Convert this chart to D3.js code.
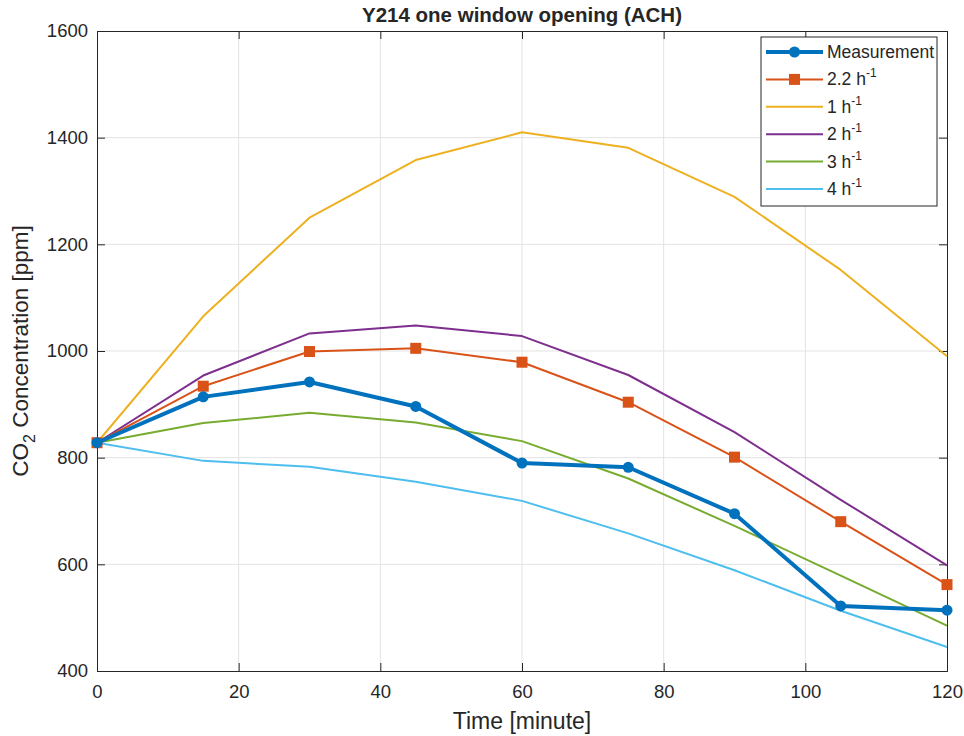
<!DOCTYPE html>
<html>
<head>
<meta charset="utf-8">
<script src="https://cdn.jsdelivr.net/npm/d3@7"></script>
<style>
  body { margin: 0; background: #fff; }
  text { font-family: "Liberation Sans", Arial, sans-serif; fill: #262626; }
</style>
</head>
<body>
<svg id="chart" width="964" height="736"></svg>
<script>
const times = [0, 15, 30, 45, 60, 75, 90, 105, 120];
const measurement = [828, 914, 942, 896, 790, 782, 695, 522, 514];
const ach22 = [828, 934, 999, 1005, 979, 904, 801, 680, 562];
const ach1 = [828, 1065, 1250, 1358, 1410, 1381, 1289, 1152, 990];
const ach2 = [828, 954, 1033, 1048, 1028, 955, 848, 721, 598];
const ach3 = [828, 865, 884, 866, 831, 761, 672, 579, 485];
const ach4 = [828, 794, 783, 755, 719, 658, 589, 513, 445];
const xTicks = [0, 20, 40, 60, 80, 100, 120];
const yTicks = [400, 600, 800, 1000, 1200, 1400, 1600];
const titleText = "Y214 one window opening (ACH)";
const xLabel = "Time [minute]";

const series = [
  {name: "Measurement", base: "Measurement", sup: "", values: measurement, color: "#0072BD", width: 4, marker: "circle"},
  {name: "2.2", base: "2.2 h", sup: "-1", values: ach22, color: "#D95319", width: 2, marker: "square"},
  {name: "1", base: "1 h", sup: "-1", values: ach1, color: "#EDB120", width: 2, marker: null},
  {name: "2", base: "2 h", sup: "-1", values: ach2, color: "#7E2F8E", width: 2, marker: null},
  {name: "3", base: "3 h", sup: "-1", values: ach3, color: "#77AC30", width: 2, marker: null},
  {name: "4", base: "4 h", sup: "-1", values: ach4, color: "#4DBEEE", width: 2, marker: null}
];

const svg = d3.select("#chart");
const L = 97, R = 947, T = 31, B = 671;
const x = d3.scaleLinear().domain([0, 120]).range([L, R]);
const y = d3.scaleLinear().domain([400, 1600]).range([B, T]);

// grid
const grid = svg.append("g");
grid.selectAll(".vg").data(xTicks.slice(1, -1)).enter().append("line")
  .attr("x1", d => x(d)).attr("x2", d => x(d)).attr("y1", T).attr("y2", B)
  .attr("stroke", "#e3e3e3").attr("stroke-width", 1);
grid.selectAll(".hg").data(yTicks.slice(1, -1)).enter().append("line")
  .attr("y1", d => y(d)).attr("y2", d => y(d)).attr("x1", L).attr("x2", R)
  .attr("stroke", "#e3e3e3").attr("stroke-width", 1);

// axes
const tickLen = 8;
const xAxis = d3.axisBottom(x).tickValues(xTicks).tickSize(-tickLen).tickPadding(14).tickFormat(d3.format("d"));
const yAxis = d3.axisLeft(y).tickValues(yTicks).tickSize(-tickLen).tickPadding(9).tickFormat(d3.format("d"));
const xTop = d3.axisTop(x).tickValues(xTicks).tickSize(-tickLen).tickFormat("");
const yRight = d3.axisRight(y).tickValues(yTicks).tickSize(-tickLen).tickFormat("");

function styleAxis(g) {
  g.select(".domain").attr("stroke", "#262626").attr("stroke-width", 1);
  g.selectAll(".tick line").attr("stroke", "#262626");
  g.selectAll(".tick text").attr("font-size", 18.5).attr("fill", "#262626")
    .style("font-family", "'Liberation Sans', Arial, sans-serif");
}
svg.append("g").attr("transform", `translate(0,${B})`).call(xAxis).call(styleAxis);
svg.append("g").attr("transform", `translate(${L},0)`).call(yAxis).call(styleAxis);
svg.append("g").attr("transform", `translate(0,${T})`).call(xTop).call(styleAxis);
svg.append("g").attr("transform", `translate(${R},0)`).call(yRight).call(styleAxis);

// lines
const line = d3.line().x((d, i) => x(times[i])).y(d => y(d));
const drawOrder = [2, 3, 4, 5, 1, 0];
const plot = svg.append("g");
drawOrder.forEach(k => {
  const s = series[k];
  plot.append("path").datum(s.values).attr("d", line)
    .attr("fill", "none").attr("stroke", s.color).attr("stroke-width", s.width)
    .attr("stroke-linejoin", "round");
  if (s.marker === "circle") {
    plot.selectAll(null).data(s.values).enter().append("circle")
      .attr("cx", (d, i) => x(times[i])).attr("cy", d => y(d)).attr("r", 5.5)
      .attr("fill", s.color);
  } else if (s.marker === "square") {
    plot.selectAll(null).data(s.values).enter().append("rect")
      .attr("x", (d, i) => x(times[i]) - 5.5).attr("y", d => y(d) - 5.5)
      .attr("width", 11).attr("height", 11).attr("fill", s.color);
  }
});

// title and labels
svg.append("text").attr("x", (L + R) / 2).attr("y", 22).attr("text-anchor", "middle")
  .attr("font-size", 20.5).attr("font-weight", "bold").attr("fill", "#111").text(titleText);
svg.append("text").attr("x", (L + R) / 2).attr("y", 729).attr("text-anchor", "middle")
  .attr("font-size", 23).text(xLabel);
const yl = svg.append("text").attr("transform", `translate(28,${(T + B) / 2}) rotate(-90)`)
  .attr("text-anchor", "middle").attr("font-size", 22.5);
yl.append("tspan").text("CO");
yl.append("tspan").attr("font-size", 16).attr("dy", 7).text("2");
yl.append("tspan").attr("dy", -7).text(" Concentration [ppm]");

// legend
const lg = svg.append("g");
const lx = 761, ly = 37, lw = 176, lh = 169;
lg.append("rect").attr("x", lx).attr("y", ly).attr("width", lw).attr("height", lh)
  .attr("fill", "#fff").attr("stroke", "#262626").attr("stroke-width", 1);
const rowY = d3.scaleLinear().domain([0, 5]).range([52, 189]);
series.forEach((s, i) => {
  const ry = rowY(i);
  lg.append("line").attr("x1", 766).attr("x2", 823).attr("y1", ry).attr("y2", ry)
    .attr("stroke", s.color).attr("stroke-width", s.width);
  if (s.marker === "circle") {
    lg.append("circle").attr("cx", 794.5).attr("cy", ry).attr("r", 5.5).attr("fill", s.color);
  } else if (s.marker === "square") {
    lg.append("rect").attr("x", 789).attr("y", ry - 5.5).attr("width", 11).attr("height", 11).attr("fill", s.color);
  }
  const t = lg.append("text").attr("x", 827).attr("y", ry + 6).attr("font-size", 17.5);
  t.append("tspan").text(s.base);
  if (s.sup) t.append("tspan").attr("font-size", 12).attr("dy", -8).text(s.sup);
});
</script>
</body>
</html>
